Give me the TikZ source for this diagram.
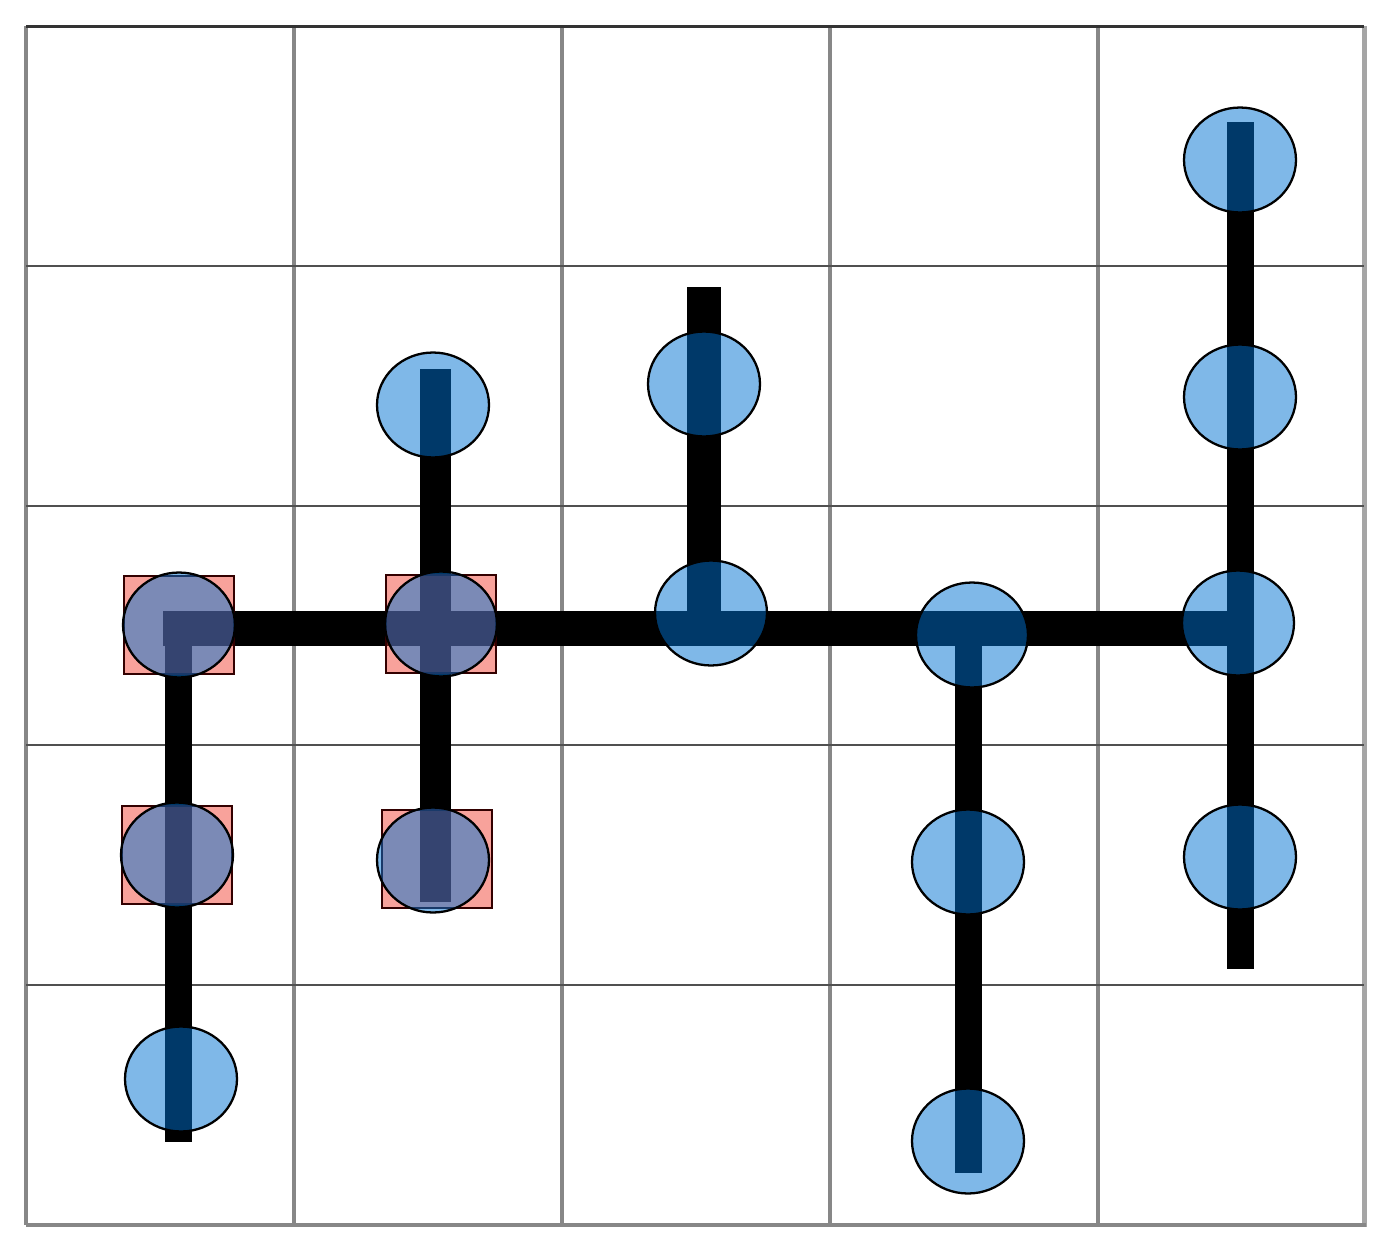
\documentclass[tikz,border=0pt]{standalone}
\usetikzlibrary{shapes.geometric}
\definecolor{dotblue}{RGB}{0,115,210}
\definecolor{boxred}{RGB}{240,50,35}
\definecolor{gridh}{RGB}{80,80,80}
\definecolor{gridv}{RGB}{135,135,135}
\begin{document}
\begin{tikzpicture}[x=0.02cm,y=-0.02cm,
  dot/.style={ellipse,draw=black,line width=1.3pt,fill=dotblue,fill opacity=0.5,draw opacity=1,
    minimum width=2.24cm,minimum height=2.1cm,inner sep=0pt},
  box/.style={rectangle,draw=black!80!red,line width=1.3pt,fill=boxred,fill opacity=0.45,draw opacity=1,
    minimum width=2.2cm,minimum height=1.96cm,inner sep=0pt},
  bar/.style={line width=#1*0.02cm,black},
  hgrid/.style={gridh,line width=2.6*0.02cm},
  vgrid/.style={gridv,line width=3.4*0.02cm}]
\useasboundingbox (0,0) rectangle (1390,1251);
\fill[white] (0,0) rectangle (1390,1251);
% grid
\foreach \x in {26,294,562,830,1098}
  \draw[vgrid] (\x,26) -- (\x,1225);
\draw[gridv!75!white,line width=5*0.02cm] (1364,26) -- (1364,1227);
\foreach \y in {266,506,745,985}
  \draw[hgrid] (26,\y) -- (1364,\y);
\draw[black!80,line width=3*0.02cm] (26,26) -- (1364,26);
\draw[gridv,line width=4*0.02cm] (26,1225) -- (1366,1225);
% junction and end coordinates
\coordinate (hL) at (163,628);
\coordinate (hR) at (1253,628);
\coordinate (j1) at (178,628);
\coordinate (e1) at (178,1142);
\coordinate (t2) at (435,369);
\coordinate (e2) at (435,902);
\coordinate (t3) at (704,287);
\coordinate (j3) at (704,628);
\coordinate (j4) at (968,628);
\coordinate (e4) at (968,1173);
\coordinate (t5) at (1240,122);
\coordinate (e5) at (1240,969);
% bars
\draw[bar=35] (hL) -- (hR);
\draw[bar=27] (j1) -- (e1);
\draw[bar=31] (t2) -- (e2);
\draw[bar=34] (t3) -- (j3);
\draw[bar=27] (j4) -- (e4);
\draw[bar=27] (t5) -- (e5);
% boxes
\node[box] (s1a) at (179,625) {};
\node[box] (s1b) at (177,855) {};
\node[box] (s2b) at (441,624) {};
\node[box] (s2c) at (437,859) {};
% dots
\node[dot] (c1a) at (179,625) {};
\node[dot] (c1b) at (177,855) {};
\node[dot] (c1c) at (181,1079) {};
\node[dot] (c2a) at (433,405) {};
\node[dot] (c2b) at (441,624) {};
\node[dot] (c2c) at (433,860) {};
\node[dot] (c3a) at (704,384) {};
\node[dot] (c3b) at (711,613) {};
\node[dot] (c4a) at (972,635) {};
\node[dot] (c4b) at (968,862) {};
\node[dot] (c4c) at (968,1141) {};
\node[dot] (c5a) at (1240,160) {};
\node[dot] (c5b) at (1240,397) {};
\node[dot] (c5c) at (1238,623) {};
\node[dot] (c5d) at (1240,857) {};
\end{tikzpicture}
\end{document}
